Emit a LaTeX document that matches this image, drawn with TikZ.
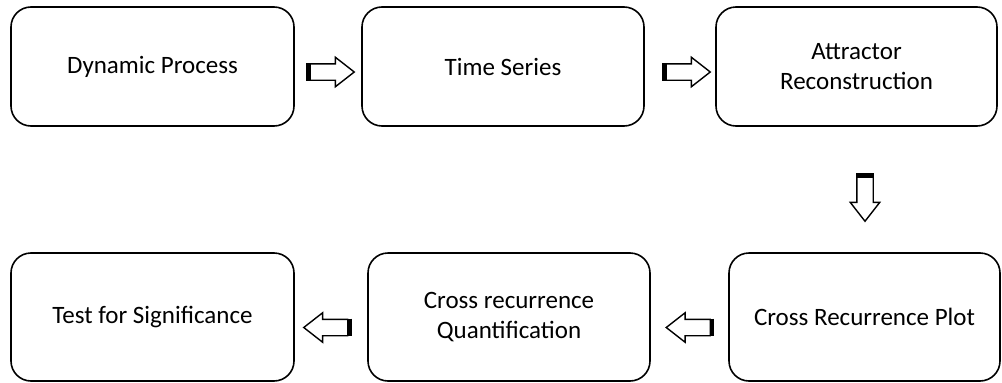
\documentclass[tikz,border=0pt]{standalone}
\usepackage{fontspec}
\setmainfont{Carlito}
\usetikzlibrary{shapes.arrows,calc}

\tikzset{
  stage/.style={draw=black, line width=1.6pt, rounded corners=20pt,
    align=center, inner sep=0pt,
    font=\fontsize{25}{30.5}\selectfont},
  flow/.style={draw=black, line width=1.4pt, fill=white, shape=single arrow,
    minimum height=44pt, inner xsep=0pt, inner ysep=7.5pt,
    single arrow head extend=6.5pt, single arrow tip angle=76,
    single arrow head indent=0pt},
  downflow/.style={flow, shape border rotate=270, inner xsep=7.5pt, inner ysep=0pt},
  tailbar/.style={line width=4pt, line cap=butt}
}

\begin{document}
\begin{tikzpicture}[x=1pt,y=-1pt]
  \useasboundingbox (0,0) rectangle (1002,383);

  % upper row
  \node[stage, minimum width=283pt, minimum height=119pt] (dyn) at (152.5,66.5) {Dynamic Process};
  \node[stage, minimum width=282pt, minimum height=119pt] (ts)  at (503,66.5)   {Time Series};
  \node[stage, minimum width=281pt, minimum height=119pt] (att) at (856.5,66.5) {Attractor\\Reconstruction};

  % lower row
  \node[stage, minimum width=283pt, minimum height=128pt] (sig) at (152.5,317) {Test for Significance};
  \node[stage, minimum width=282pt, minimum height=128pt] (crq) at (509,317)   {Cross recurrence\\Quantification};
  \node[stage, minimum width=271pt, minimum height=128pt] (crp) at (864.5,317) {Cross Recurrence Plot};

  % block arrows between the stages
  \node[flow, shape border rotate=0]   (a1) at ($(dyn.east)!0.5!(ts.west)+(-1,5.5)$) {};
  \node[flow, shape border rotate=0]   (a2) at ($(ts.east)!0.5!(att.west)+(3,5.5)$) {};
  \node[downflow]                      (a3) at ($(att.south)!0.5!(crp.north)+(4.5,4.5)$) {};
  \node[flow, shape border rotate=180] (a4) at ($(crq.west)!0.5!(sig.east)+(0,10.5)$) {};
  \node[flow, shape border rotate=180] (a5) at ($(crp.west)!0.5!(crq.east)+(4,10.5)$) {};

  % heavy tail edges
  \foreach \a in {a1,a2,a3,a4,a5}
    \draw[tailbar] ($(\a.before tail)!1.5pt!90:(\a.after tail)$) -- ($(\a.after tail)!1.5pt!-90:(\a.before tail)$);
\end{tikzpicture}
\end{document}
